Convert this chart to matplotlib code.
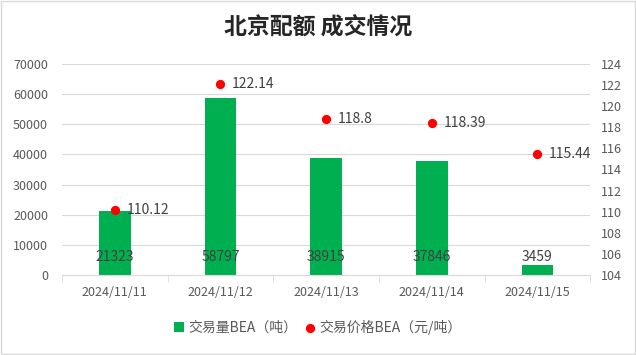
import matplotlib.pyplot as plt
import numpy as np

plt.rcParams['font.family'] = ['Noto Sans CJK SC', 'DejaVu Sans']

dates = ['2024/11/11', '2024/11/12', '2024/11/13', '2024/11/14', '2024/11/15']
volume = [21323, 58797, 38915, 37846, 3459]
price = [110.12, 122.14, 118.8, 118.39, 115.44]

green = '#00b050'
grey = '#595959'

fig = plt.figure(figsize=(6.36, 3.55), dpi=100)
ax = fig.add_axes([0.0975, 0.2254, 0.8305, 0.5943])
ax2 = ax.twinx()

x = np.arange(len(dates))
ax.bar(x, volume, width=0.3, color=green, zorder=2, label='交易量BEA（吨）')
for xi, v in zip(x, volume):
    ax.text(xi, 6000, str(v), ha='center', va='center', fontsize=10, color='#404040', zorder=3)

ax.set_ylim(0, 70000)
ax.set_yticks(np.arange(0, 70001, 10000))
ax.set_xlim(-0.5, len(dates) - 0.5)
ax.set_xticks(x)
ax.set_xticklabels(dates)
ax.set_xticks(np.arange(-0.5, len(dates), 1), minor=True)
ax.grid(axis='y', color='#d9d9d9', linewidth=0.8, zorder=0)
ax.tick_params(axis='y', length=0, labelsize=9, labelcolor=grey, pad=10)
ax.tick_params(axis='x', which='major', length=0, labelsize=9, labelcolor=grey, pad=8)
ax.tick_params(axis='x', which='minor', length=5, color='#d9d9d9')
for s in ['top', 'left', 'right']:
    ax.spines[s].set_visible(False)
ax.spines['bottom'].set_color('#d9d9d9')

ax2.scatter(x, price, color='red', s=32, zorder=4, label='交易价格BEA（元/吨）')
for xi, p in zip(x, price):
    ax2.text(xi + 0.11, p, f'{p:g}', ha='left', va='center', fontsize=10, color='#404040')
ax2.set_ylim(104, 124)
ax2.set_yticks(np.arange(104, 125, 2))
ax2.tick_params(axis='y', length=0, labelsize=9, labelcolor=grey, pad=8)
for s in ['top', 'left', 'right', 'bottom']:
    ax2.spines[s].set_visible(False)

h1, l1 = ax.get_legend_handles_labels()
h2, l2 = ax2.get_legend_handles_labels()
fig.legend(h1 + h2, l1 + l2, loc='center', bbox_to_anchor=(0.5, 0.078), ncol=2, frameon=False,
           fontsize=10, handlelength=0.7, handleheight=0.7, handletextpad=0.3, columnspacing=0.6,
           labelcolor=grey)

fig.text(0.5, 0.925, '北京配额 成交情况', ha='center', va='center', fontsize=16.5,
         fontweight='bold', color='#262626')

fig.patches.append(plt.Rectangle((0.002, 0.003), 0.996, 0.994, transform=fig.transFigure,
                                 fill=False, edgecolor='#d9d9d9', linewidth=1))

fig.savefig('out.png', dpi=100)
